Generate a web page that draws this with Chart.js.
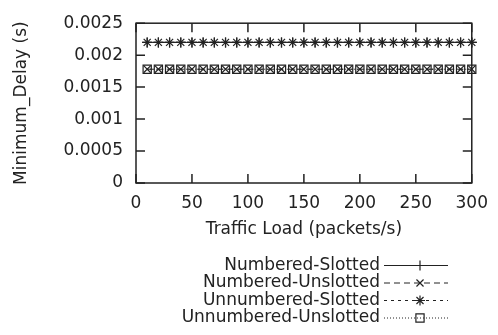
<!DOCTYPE html>
<html>
<head>
<meta charset="utf-8">
<script src="https://cdn.jsdelivr.net/npm/chart.js@4/dist/chart.umd.min.js"></script>
<style>
  html, body { margin: 0; padding: 0; background: #fff; }
  #wrap { width: 498px; height: 335px; }
</style>
</head>
<body>
<div id="wrap"><canvas id="delayChart" width="498" height="335"></canvas></div>
<script>
// data
const loads = [10, 20, 30, 40, 50, 60, 70, 80, 90, 100, 110, 120, 130, 140, 150,
               160, 170, 180, 190, 200, 210, 220, 230, 240, 250, 260, 270, 280, 290, 300];
const numberedSlotted = [0.0022, 0.0022, 0.0022, 0.0022, 0.0022, 0.0022, 0.0022, 0.0022, 0.0022, 0.0022,
                         0.0022, 0.0022, 0.0022, 0.0022, 0.0022, 0.0022, 0.0022, 0.0022, 0.0022, 0.0022,
                         0.0022, 0.0022, 0.0022, 0.0022, 0.0022, 0.0022, 0.0022, 0.0022, 0.0022, 0.0022];
const numberedUnslotted = [0.00178, 0.00178, 0.00178, 0.00178, 0.00178, 0.00178, 0.00178, 0.00178, 0.00178, 0.00178,
                           0.00178, 0.00178, 0.00178, 0.00178, 0.00178, 0.00178, 0.00178, 0.00178, 0.00178, 0.00178,
                           0.00178, 0.00178, 0.00178, 0.00178, 0.00178, 0.00178, 0.00178, 0.00178, 0.00178, 0.00178];
const unnumberedSlotted = [0.0022, 0.0022, 0.0022, 0.0022, 0.0022, 0.0022, 0.0022, 0.0022, 0.0022, 0.0022,
                           0.0022, 0.0022, 0.0022, 0.0022, 0.0022, 0.0022, 0.0022, 0.0022, 0.0022, 0.0022,
                           0.0022, 0.0022, 0.0022, 0.0022, 0.0022, 0.0022, 0.0022, 0.0022, 0.0022, 0.0022];
const unnumberedUnslotted = [0.00178, 0.00178, 0.00178, 0.00178, 0.00178, 0.00178, 0.00178, 0.00178, 0.00178, 0.00178,
                             0.00178, 0.00178, 0.00178, 0.00178, 0.00178, 0.00178, 0.00178, 0.00178, 0.00178, 0.00178,
                             0.00178, 0.00178, 0.00178, 0.00178, 0.00178, 0.00178, 0.00178, 0.00178, 0.00178, 0.00178];
const seriesNames = ['Numbered-Slotted', 'Numbered-Unslotted', 'Unnumbered-Slotted', 'Unnumbered-Unslotted'];
const xTickLabels = ['0', '50', '100', '150', '200', '250', '300'];
const yTickLabels = ['0', '0.0005', '0.001', '0.0015', '0.002', '0.0025'];

const ink = '#222';
const font = { family: 'DejaVu Sans', size: 17 };

function toPoints(values) {
    return loads.map((x, i) => ({ x: x, y: values[i] }));
}

function series(name, values, dash, style, radius) {
    return {
        label: name,
        data: toPoints(values),
        borderColor: ink,
        backgroundColor: 'transparent',
        borderWidth: 1,
        borderDash: dash,
        pointStyle: style,
        pointRadius: radius,
        pointBorderColor: ink,
        pointBackgroundColor: 'transparent',
        pointBorderWidth: 1.2,
        fill: false,
        clip: false
    };
}

// gnuplot style frame with inward ticks on all four sides
const framePlugin = {
    id: 'frame',
    afterDatasetsDraw(chart) {
        const { ctx, chartArea: a, scales } = chart;
        const len = 9;
        ctx.save();
        ctx.strokeStyle = ink;
        ctx.lineWidth = 1.5;
        scales.x.ticks.forEach(t => {
            const px = scales.x.getPixelForValue(t.value);
            ctx.beginPath();
            ctx.moveTo(px, a.bottom); ctx.lineTo(px, a.bottom - len);
            ctx.moveTo(px, a.top); ctx.lineTo(px, a.top + len);
            ctx.stroke();
        });
        scales.y.ticks.forEach(t => {
            const py = scales.y.getPixelForValue(t.value);
            ctx.beginPath();
            ctx.moveTo(a.left, py); ctx.lineTo(a.left + len, py);
            ctx.moveTo(a.right, py); ctx.lineTo(a.right - len, py);
            ctx.stroke();
        });
        ctx.strokeRect(a.left, a.top, a.right - a.left, a.bottom - a.top);
        ctx.restore();
    }
};

// legend below the plot: text on the left, line sample on the right
const keyPlugin = {
    id: 'key',
    afterDraw(chart) {
        const ctx = chart.ctx;
        const rows = [265.5, 283, 300.5, 318];
        ctx.save();
        ctx.font = font.size + 'px "' + font.family + '"';
        ctx.textAlign = 'right';
        ctx.textBaseline = 'middle';
        chart.data.datasets.forEach((ds, i) => {
            const y = rows[i];
            ctx.fillStyle = ink;
            ctx.fillText(ds.label, 380, y);
            ctx.strokeStyle = ink;
            ctx.lineWidth = 1;
            ctx.setLineDash(ds.borderDash);
            ctx.beginPath();
            ctx.moveTo(384, y); ctx.lineTo(448, y);
            ctx.stroke();
            ctx.setLineDash([]);
            ctx.lineWidth = 1.2;
            ctx.fillStyle = 'rgba(0,0,0,0)';
            Chart.helpers.drawPoint(ctx, {
                pointStyle: ds.pointStyle,
                radius: ds.pointRadius,
                rotation: 0,
                borderWidth: 1.2
            }, 420, y);
        });
        ctx.restore();
    }
};

const delayCtx = document.getElementById('delayChart').getContext('2d');

const delayChart = new Chart(delayCtx, {
    type: 'line',
    data: {
        datasets: [
            series(seriesNames[0], numberedSlotted, [], 'cross', 5),
            series(seriesNames[1], numberedUnslotted, [6, 4], 'crossRot', 5),
            series(seriesNames[2], unnumberedSlotted, [3, 4], 'star', 5),
            series(seriesNames[3], unnumberedUnslotted, [1, 2], 'rect', 5.8)
        ]
    },
    options: {
        responsive: false,
        animation: false,
        devicePixelRatio: 1,
        layout: { padding: { left: 0, right: 26, top: 14, bottom: 95 } },
        plugins: {
            legend: { display: false },
            tooltip: { enabled: false }
        },
        scales: {
            x: {
                type: 'linear',
                min: 0,
                max: 300,
                ticks: {
                    stepSize: 50,
                    color: ink,
                    font: font,
                    padding: 10,
                    maxRotation: 0,
                    callback: (v, i) => xTickLabels[i]
                },
                grid: { display: false, drawTicks: false },
                border: { display: false },
                title: {
                    display: true,
                    text: 'Traffic Load (packets/s)',
                    color: ink,
                    font: font,
                    padding: { top: 0, bottom: 0 }
                },
                afterFit: s => { s.height = 57; }
            },
            y: {
                min: 0,
                max: 0.0025,
                ticks: {
                    stepSize: 0.0005,
                    color: ink,
                    font: font,
                    padding: 13,
                    callback: (v, i) => yTickLabels[i]
                },
                grid: { display: false, drawTicks: false },
                border: { display: false },
                title: {
                    display: true,
                    text: 'Minimum_Delay (s)',
                    color: ink,
                    font: font,
                    padding: { top: 11, bottom: 0 }
                },
                afterFit: s => { s.width = 136; }
            }
        }
    },
    plugins: [framePlugin, keyPlugin]
});
</script>
</body>
</html>
